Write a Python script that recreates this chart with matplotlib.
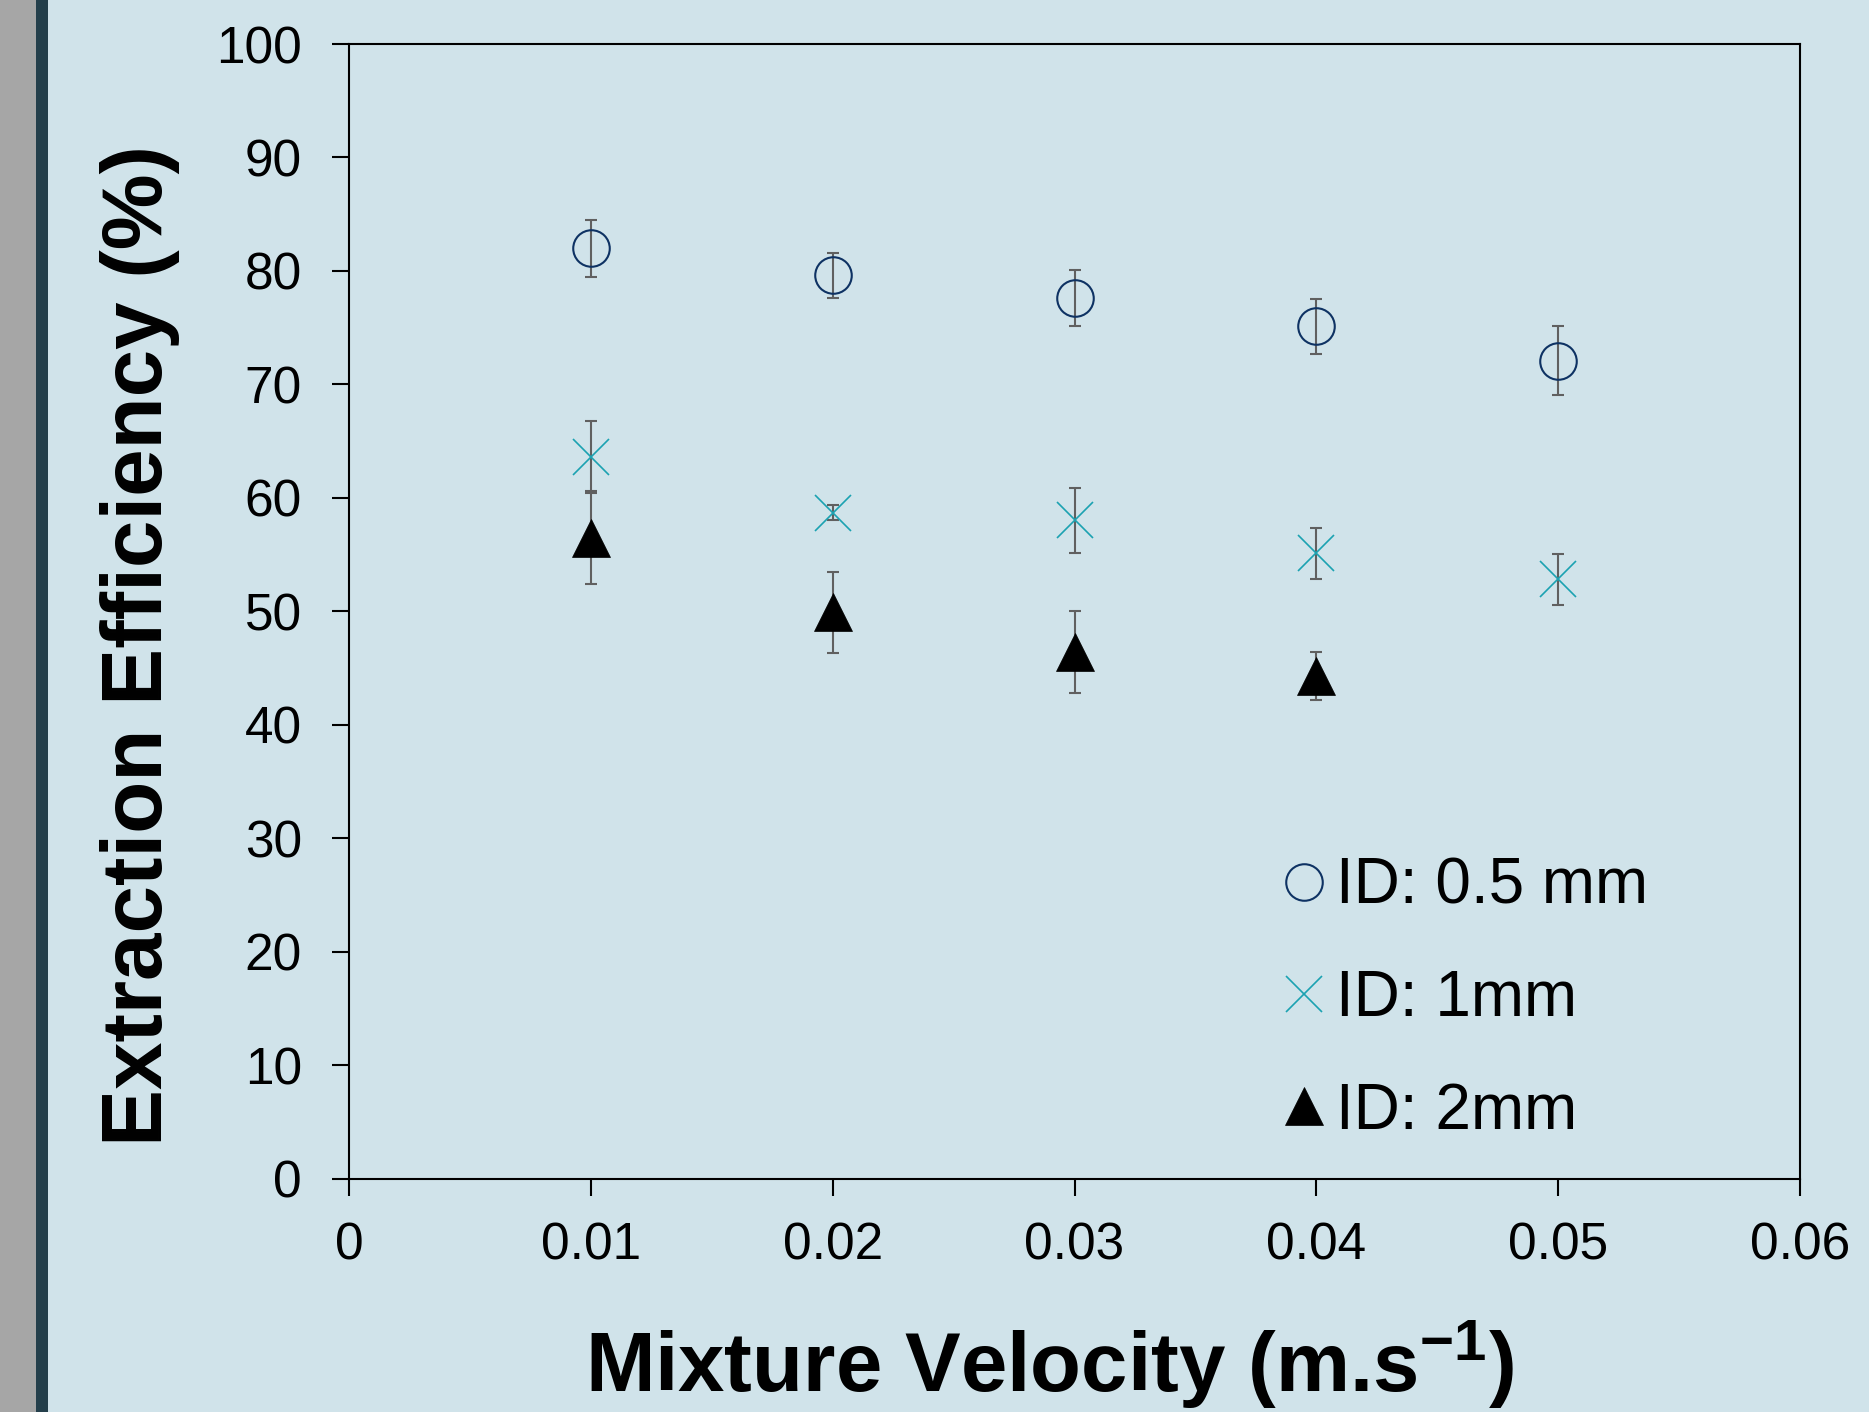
import matplotlib
matplotlib.use("Agg")
import matplotlib.pyplot as plt
from matplotlib.lines import Line2D
from matplotlib.patches import Rectangle

plt.rcParams['font.family'] = ['Liberation Sans', 'DejaVu Sans']
plt.rcParams['mathtext.fontset'] = 'custom'
plt.rcParams['mathtext.rm'] = 'Liberation Sans'
plt.rcParams['mathtext.bf'] = 'Liberation Sans:bold'
plt.rcParams['mathtext.default'] = 'bf'

# ---- data ----
velocity = [0.01, 0.02, 0.03, 0.04, 0.05]
eff_05mm = [82.0, 79.6, 77.6, 75.1, 72.1]
err_05mm = [2.5, 2.0, 2.5, 2.45, 3.0]
velocity_1mm = [0.01, 0.02, 0.03, 0.04, 0.05]
eff_1mm = [63.6, 58.7, 58.0, 55.1, 52.8]
err_1mm = [3.2, 0.65, 2.9, 2.25, 2.25]
velocity_2mm = [0.01, 0.02, 0.03, 0.04]
eff_2mm = [56.5, 49.9, 46.4, 44.3]
err_2mm = [4.1, 3.6, 3.6, 2.1]

labels = ["ID: 0.5 mm", "ID: 1mm", "ID: 2mm"]
x_ticks = [0, 0.01, 0.02, 0.03, 0.04, 0.05, 0.06]
x_tick_labels = ["0", "0.01", "0.02", "0.03", "0.04", "0.05", "0.06"]
y_ticks = [0, 10, 20, 30, 40, 50, 60, 70, 80, 90, 100]

BG = '#d0e3ea'
NAVY = '#0e3263'
TEAL = '#1ba2b1'
ERR = '#606060'

W, H = 1869, 1412
fig = plt.figure(figsize=(W / 100, H / 100), dpi=100, facecolor=BG)
fig.patches.append(Rectangle((0, 0), 36 / W, 1, transform=fig.transFigure,
                             facecolor='#a6a6a6', edgecolor='none', zorder=0))
fig.patches.append(Rectangle((36 / W, 0), 12 / W, 1, transform=fig.transFigure,
                             facecolor='#243f4b', edgecolor='none', zorder=0))

ax = fig.add_axes([349 / W, 1 - 1178.5 / H, (1800 - 349) / W, (1178.5 - 44) / H])
ax.set_facecolor(BG)

ekw = dict(fmt='none', ecolor=ERR, elinewidth=1.5, capsize=4.3, capthick=1.5, zorder=2)
ax.errorbar(velocity, eff_05mm, yerr=err_05mm, **ekw)
ax.errorbar(velocity_1mm, eff_1mm, yerr=err_1mm, **ekw)
ax.errorbar(velocity_2mm, eff_2mm, yerr=err_2mm, **ekw)

ax.plot(velocity, eff_05mm, linestyle='none', marker='o', ms=26.3, mfc='none',
        mec=NAVY, mew=1.5, zorder=3)
ax.plot(velocity_1mm, eff_1mm, linestyle='none', marker='x', ms=26.5,
        mec=TEAL, mew=1.2, zorder=3)
ax.plot(velocity_2mm, eff_2mm, linestyle='none', marker='^', ms=28, mfc='black',
        mec='black', mew=0.5, zorder=3)

ax.set_xlim(0, 0.06)
ax.set_ylim(0, 100)
ax.set_xticks(x_ticks)
ax.set_xticklabels(x_tick_labels)
ax.set_yticks(y_ticks)
ax.tick_params(axis='both', direction='out', length=12, width=1.5, color='black',
               labelsize=37, top=False, right=False)
ax.tick_params(axis='y', pad=22)
ax.tick_params(axis='x', pad=19)
for s in ax.spines.values():
    s.set_linewidth(1.5)
    s.set_color('black')

handles = [
    Line2D([], [], linestyle='none', marker='o', ms=26.3, mfc='none', mec=NAVY, mew=1.5),
    Line2D([], [], linestyle='none', marker='x', ms=26.5, mec=TEAL, mew=1.2),
    Line2D([], [], linestyle='none', marker='^', ms=28, mfc='black', mec='black', mew=0.5),
]
ax.legend(handles, labels, loc='upper left', bbox_to_anchor=(1284 / W, 1 - 857 / H),
          bbox_transform=fig.transFigure, frameon=False, fontsize=46,
          handlelength=0.62, handletextpad=0.2, labelspacing=0.82,
          borderpad=0, borderaxespad=0)

fig.text(1050 / W, 1 - 1392 / H, r'Mixture Velocity (m.s$^{-1}$)', fontsize=60,
         fontweight='bold', ha='center', va='baseline')
fig.text(140 / W, 1 - 645 / H, 'Extraction Efficiency (%)', fontsize=61.5,
         fontweight='bold', ha='center', va='center', rotation=90)

fig.savefig('out.png', dpi=100, facecolor=BG)
